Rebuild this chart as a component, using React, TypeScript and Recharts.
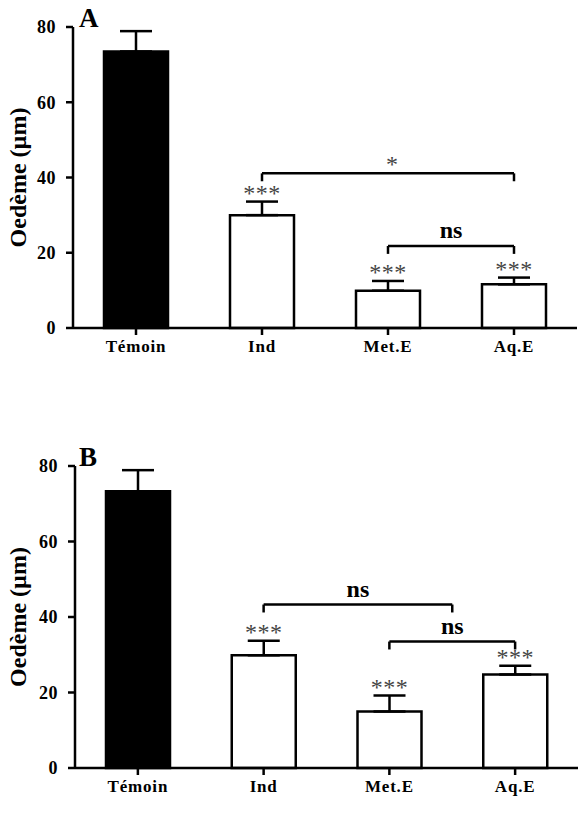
import { BarChart, Bar, Cell, XAxis, YAxis, ErrorBar, ReferenceLine, ReferenceDot } from "recharts";

const categories = ["Témoin", "Ind", "Met.E", "Aq.E"];
const yTicks = [0, 20, 40, 60, 80];

// panel A
const meanA = [73.5, 30, 9.9, 11.6];
const semA = [5.4, 3.6, 2.6, 1.8];
const starsA = ["", "***", "***", "***"];
const pairsA = [
  { from: 1, to: 3, y: 41.1, label: "*" },
  { from: 2, to: 3, y: 21.8, label: "ns" },
];

// panel B
const meanB = [73.3, 29.9, 15.0, 24.8];
const semB = [5.6, 3.8, 4.2, 2.3];
const starsB = ["", "***", "***", "***"];
const pairsB = [
  { from: 1, to: 2.5, y: 43.3, label: "ns" },
  { from: 2, to: 3, y: 33.5, label: "ns" },
];

const SERIF = "'Liberation Serif', 'Times New Roman', serif";
const LW = 2.5;
const DROP = 2.1;

const YTitle = ({ viewBox, text }: any) => {
  const cx = viewBox.x + 18;
  const cy = viewBox.y + viewBox.height / 2;
  return (
    <text
      x={cx}
      y={cy}
      transform={`rotate(-90, ${cx}, ${cy})`}
      textAnchor="middle"
      dominantBaseline="central"
      fontFamily={SERIF}
      fontWeight="bold"
      fontSize={24}
      fill="#000"
    >
      {text}
    </text>
  );
};

function Panel({ letter, yLabel, means, sems, stars, pairs, top, height, marginTop, axisWidth, right }: any) {
  const data = categories.map((name, i) => ({ idx: i, name, mean: means[i], err: [0, sems[i]] }));

  return (
    <div style={{ position: "absolute", left: 0, top, width: 585, height }}>
      <BarChart width={585} height={height} data={data} margin={{ top: marginTop, right, bottom: 0, left: 0 }}>
        <XAxis
          dataKey="idx"
          type="number"
          domain={[-0.5, 3.5]}
          ticks={[0, 1, 2, 3]}
          interval={0}
          tickFormatter={(i) => categories[i]}
          height={42}
          tickSize={7}
          tickMargin={5}
          axisLine={{ stroke: "#000", strokeWidth: LW }}
          tickLine={{ stroke: "#000", strokeWidth: LW }}
          tick={{ fill: "#000", fontFamily: SERIF, fontWeight: "bold", fontSize: 17, letterSpacing: 0.8 }}
        />
        <YAxis
          domain={[0, 80]}
          ticks={yTicks}
          width={axisWidth}
          tickSize={7}
          tickMargin={10}
          axisLine={{ stroke: "#000", strokeWidth: LW }}
          tickLine={{ stroke: "#000", strokeWidth: LW }}
          tick={{ fill: "#000", fontFamily: SERIF, fontWeight: "bold", fontSize: 18, letterSpacing: 0.5 }}
          label={<YTitle text={yLabel} />}
        />
        <Bar dataKey="mean" barSize={64} stroke="#000" strokeWidth={LW} isAnimationActive={false}>
          {data.map((d, i) => (
            <Cell key={d.name} fill={i === 0 ? "#000" : "#fff"} />
          ))}
          <ErrorBar dataKey="err" direction="y" width={16} stroke="#000" strokeWidth={LW} isAnimationActive={false} />
        </Bar>

        {pairs.map((p: any, k: number) => (
          <ReferenceLine key={`h${k}`} segment={[{ x: p.from, y: p.y }, { x: p.to, y: p.y }]} stroke="#000" strokeWidth={LW} ifOverflow="visible" />
        ))}
        {pairs.map((p: any, k: number) => (
          <ReferenceLine key={`l${k}`} segment={[{ x: p.from, y: p.y }, { x: p.from, y: p.y - DROP }]} stroke="#000" strokeWidth={LW} ifOverflow="visible" />
        ))}
        {pairs.map((p: any, k: number) => (
          <ReferenceLine key={`r${k}`} segment={[{ x: p.to, y: p.y }, { x: p.to, y: p.y - DROP }]} stroke="#000" strokeWidth={LW} ifOverflow="visible" />
        ))}
        {pairs.map((p: any, k: number) => (
          <ReferenceDot
            key={`t${k}`}
            x={(p.from + p.to) / 2}
            y={p.y}
            ifOverflow="visible"
            shape={(s: any) =>
              p.label === "ns" ? (
                <text x={s.cx} y={s.cy - 8} textAnchor="middle" fontFamily={SERIF} fontWeight="bold" fontSize={24} fill="#000">
                  ns
                </text>
              ) : (
                <text x={s.cx + 4} y={s.cy - 1} textAnchor="middle" fontFamily={SERIF} fontSize={24} fill="#444">
                  {p.label}
                </text>
              )
            }
          />
        ))}
        {stars.map((st: string, i: number) =>
          st ? (
            <ReferenceDot
              key={`s${i}`}
              x={i}
              y={means[i] + sems[i]}
              ifOverflow="visible"
              shape={(s: any) => (
                <text x={s.cx} y={s.cy - 1} textAnchor="middle" fontFamily={SERIF} fontSize={24} fill="#444" letterSpacing={0.5}>
                  {st}
                </text>
              )}
            />
          ) : null
        )}
      </BarChart>
      <div
        style={{
          position: "absolute",
          left: 79,
          top: marginTop - 22,
          fontFamily: SERIF,
          fontWeight: "bold",
          fontSize: 27,
          lineHeight: "27px",
        }}
      >
        {letter}
      </div>
    </div>
  );
}

export default function App() {
  return (
    <div style={{ position: "absolute", left: 0, top: 0, width: 585, height: 840, background: "#fff" }}>
      <Panel letter="A" yLabel="Oedème  (µm)" means={meanA} sems={semA} stars={starsA} pairs={pairsA} top={0} height={370} marginTop={27} axisWidth={73} right={8} />
      <Panel letter="B" yLabel="Oedème (µm)" means={meanB} sems={semB} stars={starsB} pairs={pairsB} top={430} height={380} marginTop={36} axisWidth={75} right={7} />
    </div>
  );
}
